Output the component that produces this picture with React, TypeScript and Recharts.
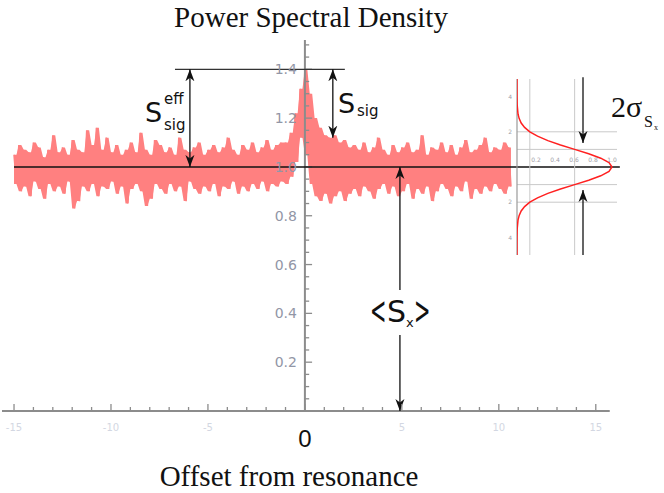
import React from "react";
import {
  ComposedChart,
  Line,
  Area,
  XAxis,
  YAxis,
  ReferenceLine,
  ReferenceDot,
  ScatterChart,
  Scatter,
} from "recharts";

// offset grid of the measured spectrum (upper / lower excursions of the noisy trace)
const offsetStart = -15;
const offsetStep = 0.25;

const psdUpper = [
  1.05, 1.09, 1.07, 1.06, 1.10, 1.08, 1.04, 1.07, 1.13, 1.06,
  1.08, 1.05, 1.11, 1.07, 1.06, 1.15, 1.09, 1.16, 1.07, 1.12,
  1.06, 1.09, 1.05, 1.07, 1.10, 1.06, 1.14, 1.07, 1.05, 1.11,
  1.09, 1.06, 1.08, 1.05, 1.12, 1.07, 1.06, 1.08, 1.10, 1.05,
  1.07, 1.09, 1.06, 1.08, 1.12, 1.07, 1.05, 1.09, 1.07, 1.10,
  1.06, 1.08, 1.11, 1.07, 1.09, 1.10, 1.10, 1.14, 1.22, 1.32,
  1.40, 1.30, 1.20, 1.16, 1.13, 1.12, 1.13, 1.10, 1.11, 1.08,
  1.09, 1.07, 1.10, 1.06, 1.08, 1.12, 1.07, 1.05, 1.09, 1.06,
  1.08, 1.10, 1.06, 1.07, 1.13, 1.05, 1.08, 1.07, 1.10, 1.06,
  1.09, 1.05, 1.08, 1.11, 1.06, 1.07, 1.09, 1.12, 1.06, 1.08,
  1.07, 1.10, 1.08,
];

const psdLower = [
  0.93, 0.90, 0.92, 0.88, 0.94, 0.91, 0.87, 0.93, 0.90, 0.92,
  0.89, 0.94, 0.83, 0.86, 0.92, 0.90, 0.93, 0.88, 0.92, 0.91,
  0.94, 0.89, 0.92, 0.85, 0.91, 0.93, 0.90, 0.84, 0.87, 0.93,
  0.91, 0.89, 0.93, 0.90, 0.92, 0.86, 0.94, 0.91, 0.89, 0.92,
  0.90, 0.93, 0.88, 0.92, 0.91, 0.94, 0.89, 0.92, 0.90, 0.93,
  0.91, 0.94, 0.90, 0.93, 0.92, 0.94, 0.93, 0.96, 1.02, 1.12,
  1.05, 0.93, 0.88, 0.86, 0.89, 0.85, 0.88, 0.90, 0.86, 0.89,
  0.91, 0.88, 0.92, 0.90, 0.87, 0.91, 0.93, 0.89, 0.92, 0.88,
  0.90, 0.93, 0.87, 0.91, 0.89, 0.92, 0.86, 0.90, 0.93, 0.91,
  0.88, 0.92, 0.90, 0.94, 0.87, 0.91, 0.89, 0.92, 0.90, 0.93,
  0.91, 0.89, 0.92,
];

const xTicks = [
  -15, -14, -13, -12, -11, -10, -9, -8, -7, -6, -5, -4, -3, -2, -1, 0,
  1, 2, 3, 4, 5, 6, 7, 8, 9, 10, 11, 12, 13, 14, 15,
];
const xTickLabels = [-15, -10, -5, 5, 10, 15];

const yTicks = [
  0.05, 0.1, 0.15, 0.2, 0.25, 0.3, 0.35, 0.4, 0.45, 0.5, 0.55, 0.6, 0.65,
  0.7, 0.75, 0.8, 0.85, 0.9, 0.95, 1.0, 1.05, 1.1, 1.15, 1.2, 1.25, 1.3,
  1.35, 1.4, 1.45, 1.5,
];
const yTickLabels = ["0.2", "0.4", "0.6", "0.8", "1.0", "1.2", "1.4"];

// inset: distribution of the noise level (offset in units of sigma)
const gaussOffsets = [
  -5, -4.5, -4, -3.5, -3, -2.75, -2.5, -2.25, -2, -1.75, -1.5, -1.25, -1,
  -0.75, -0.5, -0.25, 0, 0.25, 0.5, 0.75, 1, 1.25, 1.5, 1.75, 2, 2.25, 2.5,
  2.75, 3, 3.5, 4, 4.5, 5,
];
const gaussValues = [
  0, 0.0001, 0.0003, 0.0022, 0.011, 0.023, 0.044, 0.08, 0.135, 0.216, 0.325,
  0.458, 0.607, 0.755, 0.882, 0.969, 1, 0.969, 0.882, 0.755, 0.607, 0.458,
  0.325, 0.216, 0.135, 0.08, 0.044, 0.023, 0.011, 0.0022, 0.0003, 0.0001, 0,
];
const insetGridX = [0.135, 0.607];
const insetGridY = [-2, -1, 1, 2];
const insetYLabels = [-4, -2, 2, 4];
const insetXLabels = ["0.2", "0.4", "0.6", "0.8", "1.0"];

const psdRows = psdUpper.flatMap((hi, i) => {
  const x = offsetStart + i * offsetStep;
  const band = [psdLower[i], hi];
  return [
    { x, v: hi, band },
    { x: x + offsetStep / 2, v: psdLower[i], band },
  ];
});

const gaussRows = gaussOffsets.map((s, i) => ({ g: gaussValues[i], s }));

const AXIS = "#8c8c8c";
const LABEL = "#9296a6";
const RED = "#ff8080";
const SANS = "DejaVu Sans";
const SERIF = "Liberation Serif";

const XTick = (props: any) => {
  const { x, y, payload } = props;
  const v = payload.value;
  const major = v % 5 === 0;
  return (
    <g>
      <line x1={x} y1={y} x2={x} y2={y - (major ? 7 : 4)} stroke={AXIS} strokeWidth={1.3} />
      {xTickLabels.includes(v) && (
        <text x={x} y={y + 20} textAnchor="middle" fontSize={10} fontFamily={SANS} fill="#d3d7e2">
          {v}
        </text>
      )}
    </g>
  );
};

const arrow = { stroke: "#111", strokeWidth: 1.3, ifOverflow: "visible" as const };

export default function App() {
  return (
    <div style={{ position: "absolute", left: 0, top: 0, width: 664, height: 493, background: "#fff" }}>
      <div style={{ position: "absolute", left: 0, top: 0 }}>
        <ComposedChart
          width={664}
          height={493}
          data={psdRows}
          margin={{ top: 40, right: 43, bottom: 52, left: 2 }}
        >
          <XAxis
            type="number"
            dataKey="x"
            domain={[-15.62, 16.3]}
            allowDataOverflow
            ticks={xTicks}
            interval={0}
            tick={<XTick />}
            tickLine={false}
            axisLine={false}
            tickSize={0}
            tickMargin={0}
            height={30}
          />
          <YAxis type="number" domain={[0, 1.52]} allowDataOverflow hide />

          <Area
            dataKey="band"
            type="linear"
            stroke="none"
            fill={RED}
            fillOpacity={1}
            activeDot={false}
            isAnimationActive={false}
          />
          <Line
            dataKey="v"
            type="linear"
            stroke={RED}
            strokeWidth={1.6}
            strokeLinejoin="bevel"
            dot={false}
            activeDot={false}
            isAnimationActive={false}
          />

          {/* axes crossing at the origin */}
          <ReferenceLine segment={[{ x: -15.62, y: 0 }, { x: 15.72, y: 0 }]} stroke={AXIS} strokeWidth={2} ifOverflow="visible" />
          <ReferenceLine segment={[{ x: 0, y: 0 }, { x: 0, y: 1.52 }]} stroke={AXIS} strokeWidth={2} ifOverflow="visible" />
          {yTicks.map((v) => {
            const major = Math.abs(v * 5 - Math.round(v * 5)) < 1e-6;
            return (
              <ReferenceLine
                key={`yt${v}`}
                segment={[{ x: 0, y: v }, { x: major ? 0.37 : 0.22, y: v }]}
                stroke={AXIS}
                strokeWidth={1.3}
                ifOverflow="visible"
              />
            );
          })}
          {yTickLabels.map((t) => (
            <ReferenceDot
              key={`yl${t}`}
              x={0}
              y={Number(t)}
              r={0}
              stroke="none"
              fill="none"
              ifOverflow="visible"
              label={{ value: t, position: "left", offset: 8, fill: LABEL, fontSize: 14, fontFamily: SANS }}
            />
          ))}

          {/* annotation lines */}
          <ReferenceLine segment={[{ x: -15, y: 1 }, { x: 16.24, y: 1 }]} stroke="#111" strokeWidth={1.5} ifOverflow="visible" />
          <ReferenceLine segment={[{ x: -6.7, y: 1.4 }, { x: 2.06, y: 1.4 }]} stroke="#333" strokeWidth={1.2} ifOverflow="visible" />
          <ReferenceLine segment={[{ x: -5.93, y: 1.4 }, { x: -5.93, y: 1.0 }]} {...arrow} markerStart="url(#ah)" markerEnd="url(#ah)" />
          <ReferenceLine segment={[{ x: 1.44, y: 1.4 }, { x: 1.44, y: 1.12 }]} {...arrow} markerStart="url(#ah)" markerEnd="url(#ah)" />
          <ReferenceLine segment={[{ x: 4.9, y: 1.0 }, { x: 4.9, y: 0.496 }]} {...arrow} markerStart="url(#ah)" />
          <ReferenceLine segment={[{ x: 4.9, y: 0.311 }, { x: 4.9, y: 0 }]} {...arrow} markerEnd="url(#ah)" />
        </ComposedChart>
      </div>

      <div style={{ position: "absolute", left: 497, top: 70 }}>
        <ScatterChart width={130} height={196} margin={{ top: 9, right: 10, bottom: 11, left: 20 }}>
          <XAxis type="number" dataKey="g" domain={[0, 1.053]} allowDataOverflow hide />
          <YAxis type="number" dataKey="s" domain={[-5, 5]} allowDataOverflow hide />
          {insetGridX.map((g) => (
            <ReferenceLine key={`gx${g}`} segment={[{ x: g, y: -5 }, { x: g, y: 5 }]} stroke="#c9c9c9" strokeWidth={1} />
          ))}
          {insetGridY.map((s) => (
            <ReferenceLine key={`gy${s}`} segment={[{ x: 0, y: s }, { x: 1.053, y: s }]} stroke="#c9c9c9" strokeWidth={1} />
          ))}
          <ReferenceLine segment={[{ x: 0, y: -5 }, { x: 0, y: 5 }]} stroke="#9a9a9a" strokeWidth={1.2} />
          {insetYLabels.map((s) => (
            <ReferenceDot
              key={`iy${s}`}
              x={0}
              y={s}
              r={0}
              stroke="none"
              fill="none"
              label={{ value: String(Math.abs(s)), position: "left", offset: 5, fill: "#a0a0a8", fontSize: 6, fontFamily: SANS }}
            />
          ))}
          {insetXLabels.map((t) => (
            <ReferenceDot
              key={`ix${t}`}
              x={Number(t)}
              y={0}
              r={0}
              stroke="none"
              fill="none"
              label={{ value: t, position: "top", offset: 5, fill: "#a0a0a8", fontSize: 6, fontFamily: SANS }}
            />
          ))}
          <Scatter
            data={gaussRows}
            line={{ stroke: "#ff2020", strokeWidth: 1.5 }}
            lineType="joint"
            shape={() => <g />}
            isAnimationActive={false}
          />
          <ReferenceLine segment={[{ x: 0.695, y: 5.1 }, { x: 0.695, y: 1.36 }]} {...arrow} markerEnd="url(#ah)" />
          <ReferenceLine segment={[{ x: 0.695, y: -5 }, { x: 0.695, y: -1.31 }]} {...arrow} markerEnd="url(#ah)" />
        </ScatterChart>
      </div>

      <svg
        width={664}
        height={493}
        style={{ position: "absolute", left: 0, top: 0, pointerEvents: "none" }}
      >
        <defs>
          <marker
            id="ah"
            viewBox="0 0 12 10"
            refX={12}
            refY={5}
            markerWidth={12}
            markerHeight={10}
            markerUnits="userSpaceOnUse"
            orient="auto-start-reverse"
          >
            <path d="M0,0.5 L12,5 L0,9.5 L3.5,5 Z" fill="#111" />
          </marker>
        </defs>
        <text x={311} y={27} textAnchor="middle" fontFamily={SERIF} fontSize={29} fill="#111">
          Power Spectral Density
        </text>
        <text x={289} y={486} textAnchor="middle" fontFamily={SERIF} fontSize={29} fill="#111">
          Offset from resonance
        </text>
        <text x={305} y={447} textAnchor="middle" fontFamily="Liberation Sans" fontSize={24} fill="#111">
          0
        </text>

        <g fontFamily={SANS} fill="#111">
          <text x={145} y={122} fontSize={27}>S</text>
          <text x={164} y={104} fontSize={15}>eff</text>
          <text x={164} y={130} fontSize={15}>sig</text>

          <text x={338} y={113} fontSize={27}>S</text>
          <text x={357} y={116} fontSize={15}>sig</text>

          <text fontSize={28} transform="translate(370,324) scale(0.7,1.4)">&lt;</text>
          <text x={387} y={322} fontSize={30}>S</text>
          <text x={406} y={327} fontSize={13}>x</text>
          <text fontSize={28} transform="translate(414,324) scale(0.7,1.4)">&gt;</text>
        </g>
        <g fontFamily={SERIF} fill="#111">
          <text x={611} y={117} fontSize={30}>2σ</text>
          <text x={644} y={127} fontSize={16}>S</text>
          <text x={654} y={130} fontSize={8}>x</text>
        </g>
      </svg>
    </div>
  );
}
